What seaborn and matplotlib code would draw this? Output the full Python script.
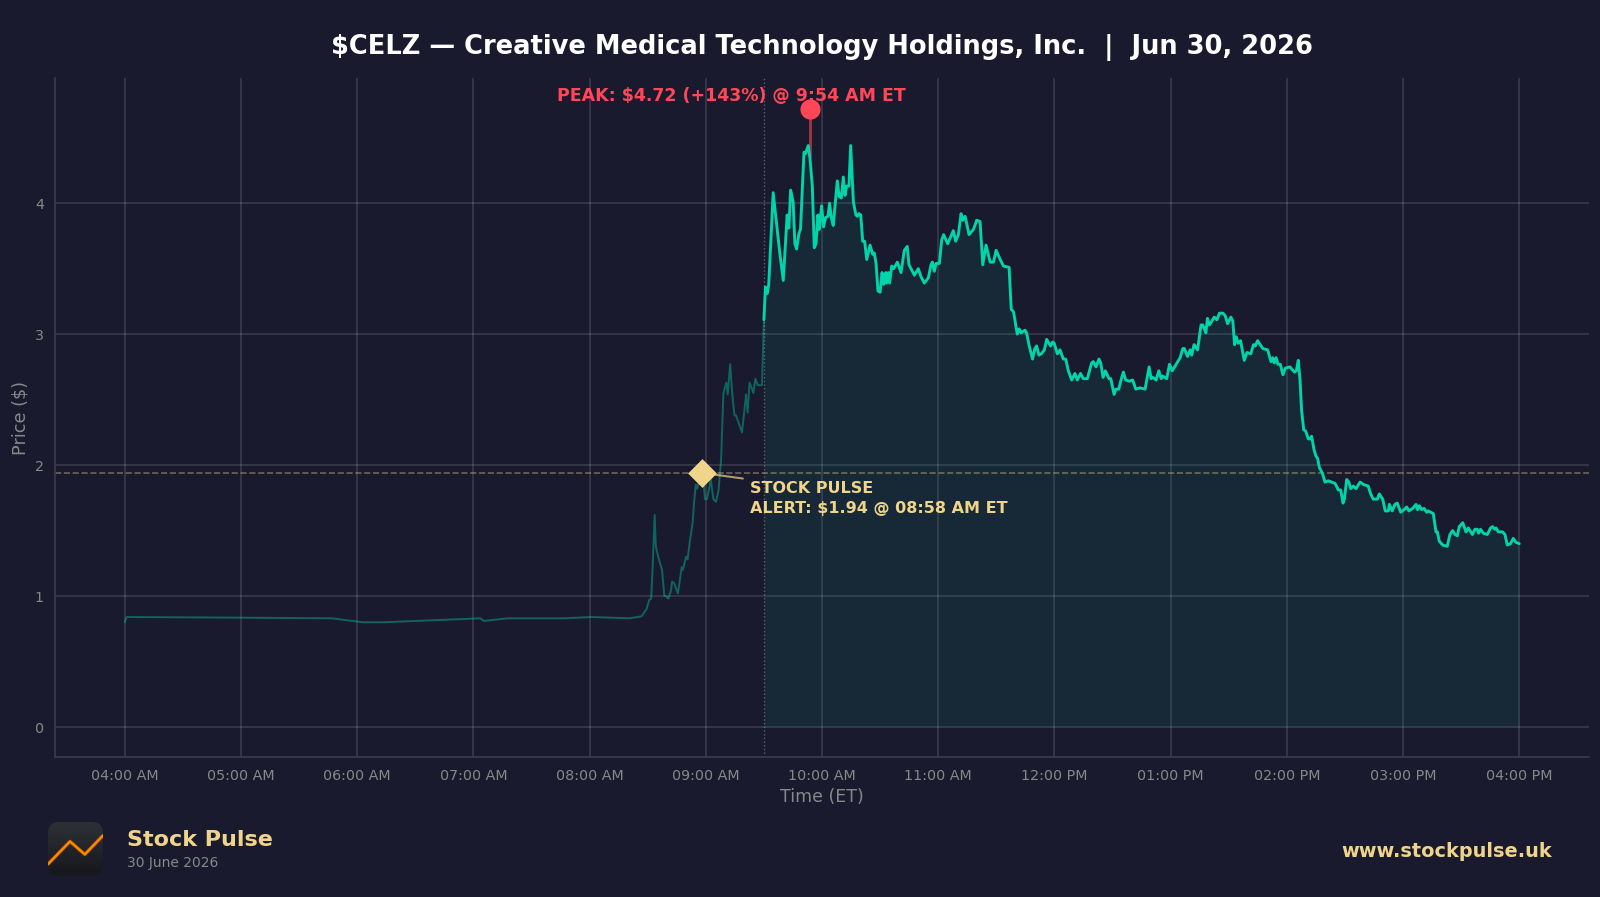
import matplotlib
matplotlib.use("Agg")
import matplotlib.dates as mdates
import matplotlib.pyplot as plt
import numpy as np
import pandas as pd
import seaborn as sns
from matplotlib.patches import FancyBboxPatch

# minutes after 04:00 ET and price
pre_minutes = [0, 1, 60, 107, 122.7, 134, 183.6, 185.5, 197.6, 227, 241, 260.5, 266.8, 269.4, 270.8, 271.8,
               272.6, 273.6, 274.2, 275.6, 277.4, 278.6, 279.4, 280.6, 282, 282.6, 283.6, 285.6, 287.6, 288.2,
               289.8, 290.6, 291.8, 293.2, 294.1, 294.8, 295.6, 296.2, 297.9, 298.9, 299.6, 300.6, 302.6, 303.9,
               305.3, 306.6, 307.9, 309.1, 310.6, 311.3, 312.6, 313.6, 314.8, 315.6, 317, 318.7, 320.8, 321.6,
               322.6, 324.6, 325.6, 326.8, 329, 330]
pre_prices = [0.80, 0.84, 0.835, 0.83, 0.80, 0.80, 0.83, 0.81, 0.83, 0.83, 0.84, 0.83, 0.845, 0.90, 0.97, 0.98,
              1.23, 1.62, 1.38, 1.29, 1.20, 1.00, 1.00, 0.98, 1.04, 1.11, 1.10, 1.02, 1.22, 1.20,
              1.30, 1.28, 1.42, 1.56, 1.74, 1.85, 1.82, 1.86, 1.94, 1.86, 1.74, 1.74, 1.89, 1.74,
              1.72, 1.81, 2.04, 2.55, 2.63, 2.54, 2.77, 2.55, 2.38, 2.38, 2.32, 2.25, 2.54, 2.40,
              2.63, 2.55, 2.66, 2.61, 2.61, 3.11]

reg_minutes = [330, 330.8, 331.7, 332.5, 334.8, 336.5, 338.2, 340, 341.4, 342, 342.9, 343.8, 345.1, 346, 346.9,
               348.1, 348.9, 350.7, 351.5, 352.9, 353.8, 355, 356, 356.9, 357.9, 358.6, 359.8, 360.8, 361.9,
               363.1, 363.9, 364.8, 365.8, 367.9, 368.9, 370, 371, 371.9, 372.7, 373.9, 374.8, 376.2, 377.5,
               378.2, 379.1, 380, 381, 382, 383.1, 384.8, 386.2, 387, 387.9, 388.9, 390, 391, 391.9,
               392.9, 393.3, 394.2, 394.9, 396, 397, 398.9, 400.8, 402.5, 404, 404.9, 407.7, 409.7, 411.1,
               412.8, 414.9, 416.3, 417, 418, 418.9, 420.6, 421.8, 422.8, 424.9, 427.8, 429, 430.4, 431.8,
               432.7, 433.9, 435.9, 438.2, 439.9, 441.6, 443, 444.7, 446.8, 448.5, 449.9, 452, 453.7, 456.6,
               457.7, 458.9, 460.8, 461.8, 462.8, 464.8, 465.6, 467, 468.7, 469.9, 470.8, 472, 473.3, 474.8,
               476, 478, 479.1, 479.9, 481.5, 482.9, 484.6, 485.8, 487.2, 488.9, 490.6, 491.8, 493.5, 494.9,
               497, 499.2, 500.1, 501.5, 503, 503.9, 505.1, 506.3, 508.2, 509.1, 510.8, 511.8, 513.2, 514.4,
               515.6, 516.8, 518.7, 520.4, 522, 524.2, 526.8, 528.9, 529.9, 530.8, 532.5, 533.9, 535.1, 535.9,
               538, 539.4, 540.8, 544.9, 546.3, 547.1, 548.7, 550.1, 550.9, 552.1, 553.9, 555.7, 556.6, 558.2,
               559, 560.1, 562.5, 563.9, 565.2, 567, 568.2, 569.4, 571.1, 572.1, 573, 573.9, 574.9, 576.1,
               578, 579.4, 581.4, 582.8, 583.7, 584.9, 587.6, 590.1, 591.8, 592.8, 593.5, 594.5, 595.4, 596.6,
               598, 599.2, 601.6, 603.9, 604.9, 605.9, 606.8, 607.6, 608.7, 609.7, 611.1, 612, 612.8, 614,
               615, 615.9, 616.8, 617.6, 618.5, 619.7, 621.4, 623.1, 624.9, 626.6, 627.8, 629, 629.7, 630.9,
               632, 633, 634.3, 635.7, 637.8, 639.8, 642, 643.3, 644.6, 646.7, 647.7, 649.5, 650.8, 652.4,
               652.9, 654.4, 655.8, 657, 658.8, 660.5, 661.9, 663, 665, 666.7, 667.5, 668.4, 669.6, 670.8,
               672.2, 673, 675.6, 677, 677.7, 678.7, 680.4, 682.8, 684.2, 685.6, 686.8, 688, 689, 690.8,
               692.5, 693.7, 695.8, 697.1, 698.3, 699, 700, 701.4, 703.5, 705.2, 706.2, 707.5, 708, 709.2,
               711.4, 712.6, 713.8, 715.5, 716.9, 718.3, 720]
reg_prices = [3.11, 3.36, 3.31, 3.38, 4.08, 3.85, 3.62, 3.41, 3.77, 3.91, 3.81, 4.10, 4.01, 3.69, 3.65,
              3.77, 3.80, 4.39, 4.38, 4.44, 4.34, 4.13, 3.66, 3.69, 3.91, 3.80, 3.98, 3.82, 3.89,
              3.90, 4.00, 3.89, 3.83, 4.17, 4.05, 4.04, 4.20, 4.06, 4.13, 4.13, 4.44, 4.01, 3.91,
              3.90, 3.92, 3.91, 3.71, 3.71, 3.57, 3.68, 3.61, 3.62, 3.54, 3.33, 3.32, 3.47, 3.38,
              3.47, 3.39, 3.47, 3.39, 3.52, 3.50, 3.55, 3.47, 3.64, 3.67, 3.53, 3.45, 3.50, 3.44,
              3.39, 3.43, 3.53, 3.55, 3.48, 3.54, 3.54, 3.72, 3.76, 3.69, 3.79, 3.71, 3.76, 3.92,
              3.87, 3.90, 3.76, 3.80, 3.87, 3.86, 3.53, 3.68, 3.55, 3.55, 3.64, 3.57, 3.52, 3.51,
              3.19, 3.17, 3.00, 3.04, 3.01, 3.03, 3.01, 2.91, 2.81, 2.89, 2.91, 2.84, 2.85, 2.88,
              2.96, 2.91, 2.94, 2.93, 2.85, 2.88, 2.81, 2.81, 2.72, 2.65, 2.70, 2.65, 2.70, 2.66,
              2.66, 2.78, 2.79, 2.75, 2.81, 2.78, 2.67, 2.72, 2.66, 2.66, 2.54, 2.58, 2.58, 2.65,
              2.71, 2.65, 2.64, 2.65, 2.58, 2.59, 2.58, 2.75, 2.66, 2.67, 2.65, 2.72, 2.66, 2.68,
              2.66, 2.77, 2.72, 2.82, 2.89, 2.89, 2.83, 2.88, 2.84, 2.92, 2.88, 3.07, 3.07, 3.01,
              3.12, 3.07, 3.13, 3.11, 3.16, 3.16, 3.14, 3.08, 3.13, 3.10, 2.92, 2.98, 2.93, 2.95,
              2.80, 2.86, 2.85, 2.92, 2.91, 2.95, 2.89, 2.88, 2.79, 2.82, 2.78, 2.82, 2.77, 2.77,
              2.69, 2.74, 2.75, 2.71, 2.72, 2.80, 2.65, 2.42, 2.27, 2.26, 2.20, 2.20, 2.22, 2.12,
              2.07, 2.05, 1.98, 1.96, 1.93, 1.87, 1.88, 1.87, 1.86, 1.81, 1.81, 1.71, 1.74, 1.89,
              1.87, 1.82, 1.84, 1.82, 1.87, 1.85, 1.84, 1.78, 1.74, 1.74, 1.78, 1.74, 1.65, 1.65,
              1.70, 1.65, 1.70, 1.71, 1.64, 1.66, 1.68, 1.65, 1.67, 1.70, 1.66, 1.69, 1.66, 1.67,
              1.64, 1.65, 1.63, 1.49, 1.49, 1.42, 1.39, 1.38, 1.47, 1.50, 1.47, 1.46, 1.53, 1.56,
              1.49, 1.52, 1.47, 1.51, 1.51, 1.48, 1.51, 1.48, 1.47, 1.52, 1.53, 1.51, 1.52, 1.49,
              1.49, 1.47, 1.39, 1.40, 1.44, 1.41, 1.40]

start_time = "2026-06-30 04:00"
hour_labels = pd.date_range(start_time, "2026-06-30 16:00", freq="h")
open_time = pd.Timestamp("2026-06-30 09:30")
alert_time = pd.Timestamp("2026-06-30 08:58")
alert_price = 1.94
peak_time = pd.Timestamp("2026-06-30 09:54")
peak_price = 4.72
peak_close = 4.36
logo_x = [0, 0.40, 0.67, 1]
logo_y = [0.22, 0.64, 0.40, 0.75]

BG = "#1a1a2e"
TEAL = "#00d4aa"
GOLD = "#f0d48a"
RED = "#ff4757"
GREY = "#888888"


def to_frame(minutes, prices):
    times = pd.Timestamp(start_time) + pd.to_timedelta(minutes, unit="min")
    return pd.DataFrame({"time": times, "price": prices})


sns.set_theme(style="darkgrid", rc={
    "figure.facecolor": BG,
    "axes.facecolor": BG,
    "axes.edgecolor": "#3a3a4a",
    "grid.color": "#ffffff",
    "grid.alpha": 0.15,
    "grid.linewidth": 1.1,
})
plt.rcParams["font.family"] = ["DejaVu Sans"]

pre_df = to_frame(pre_minutes, pre_prices)
reg_df = to_frame(reg_minutes, reg_prices)

fig = plt.figure(figsize=(16, 8.97), dpi=100)
ax = fig.add_axes([55 / 1600, 1 - 757 / 897, (1589 - 55) / 1600, (757 - 78) / 897])

sns.lineplot(data=pre_df, x="time", y="price", color=TEAL, alpha=0.4, linewidth=1.4,
             estimator=None, sort=False, ax=ax)
sns.lineplot(data=reg_df, x="time", y="price", color=TEAL, linewidth=2.1,
             estimator=None, sort=False, ax=ax, zorder=4)
ax.fill_between(reg_df["time"], reg_df["price"], 0, color=TEAL, alpha=0.08, linewidth=0)

ax.axvline(open_time, color="#ffffff", alpha=0.3, linewidth=1, linestyle=":")
ax.axhline(alert_price, color=GOLD, alpha=0.4, linewidth=1.2, linestyle="--")

# peak marker and label
ax.plot([peak_time, peak_time], [peak_close, peak_price], color=RED, alpha=0.6, linewidth=2, zorder=3)
ax.scatter([peak_time], [peak_price], s=210, color=RED, zorder=6, linewidths=0)
ax.annotate(f"PEAK: ${peak_price:.2f} (+143%) @ 9:54 AM ET", xy=(peak_time, peak_price),
            xytext=(-57, 9.5), textcoords="offset points", ha="center", va="center",
            color=RED, fontsize=12.55, fontweight="bold", zorder=5)

# alert marker and label
ax.scatter([alert_time], [alert_price], s=215, marker="D", color=GOLD, zorder=6, linewidths=0)
ax.annotate("", xy=(alert_time, alert_price), xytext=(29.5, -4), textcoords="offset points",
            arrowprops=dict(arrowstyle="-", color=GOLD, alpha=0.7, linewidth=1.5, shrinkA=0, shrinkB=0))
ax.annotate("STOCK PULSE\nALERT: $1.94 @ 08:58 AM ET", xy=(alert_time, alert_price),
            xytext=(34.5, -5.5), textcoords="offset points", ha="left", va="top",
            color=GOLD, fontsize=11.5, fontweight="bold", linespacing=1.42, zorder=7)

ax.set_xlim(pd.Timestamp("2026-06-30 03:24"), pd.Timestamp("2026-06-30 16:36"))
ax.set_ylim(-0.229, 4.956)
ax.set_xticks(hour_labels)
ax.xaxis.set_major_formatter(mdates.DateFormatter("%I:%M %p"))
ax.set_yticks([0, 1, 2, 3, 4])
ax.tick_params(axis="x", colors=GREY, labelsize=10.3, length=5, width=1, color="#555560", pad=4)
ax.tick_params(axis="y", colors=GREY, labelsize=10.3, length=0, pad=8)
ax.set_xlabel("Time (ET)", color=GREY, fontsize=12.5, labelpad=3.5)
ax.set_ylabel("Price ($)", color=GREY, fontsize=12.7, labelpad=4)
ax.grid(True, zorder=0)
ax.spines["top"].set_visible(False)
ax.spines["right"].set_visible(False)
ax.spines["left"].set_color("#3a3a4a")
ax.spines["bottom"].set_color("#3a3a4a")

fig.text(822 / 1600, 1 - 47.5 / 897, "$CELZ — Creative Medical Technology Holdings, Inc.  |  Jun 30, 2026",
         color="white", fontsize=18.55, fontweight="bold", ha="center", va="center")

# footer
fig.text(127 / 1600, 1 - 840 / 897, "Stock Pulse", color=GOLD, fontsize=16, fontweight="bold", va="center")
fig.text(127 / 1600, 1 - 863 / 897, "30 June 2026", color=GREY, fontsize=10, va="center")
fig.text(1552 / 1600, 1 - 851 / 897, "www.stockpulse.uk", color=GOLD, fontsize=13.85,
         fontweight="bold", ha="right", va="center")

# logo
logo = fig.add_axes([48 / 1600, 1 - 876 / 897, 55 / 1600, 54 / 897])
logo.set_xlim(0, 1)
logo.set_ylim(0, 1)
logo.axis("off")
box = FancyBboxPatch((0, 0), 1, 1, boxstyle="round,pad=0,rounding_size=0.2",
                     transform=logo.transData, linewidth=0, facecolor="none")
logo.add_patch(box)
shade = logo.imshow(np.linspace(0, 1, 64).reshape(-1, 1), extent=(0, 1, 0, 1), aspect="auto",
                    origin="upper", cmap=matplotlib.colors.LinearSegmentedColormap.from_list(
                        "logo", ["#2e3236", "#16171d"]))
shade.set_clip_path(box)
logo.plot(logo_x, logo_y, color="#a04a00", linewidth=2.6, solid_joinstyle="round", clip_path=box)
logo.plot(logo_x, logo_y, color="#ff8c00", linewidth=1.6, solid_joinstyle="round", clip_path=box)

fig.savefig("out.png", dpi=100, facecolor=BG)
plt.close(fig)
